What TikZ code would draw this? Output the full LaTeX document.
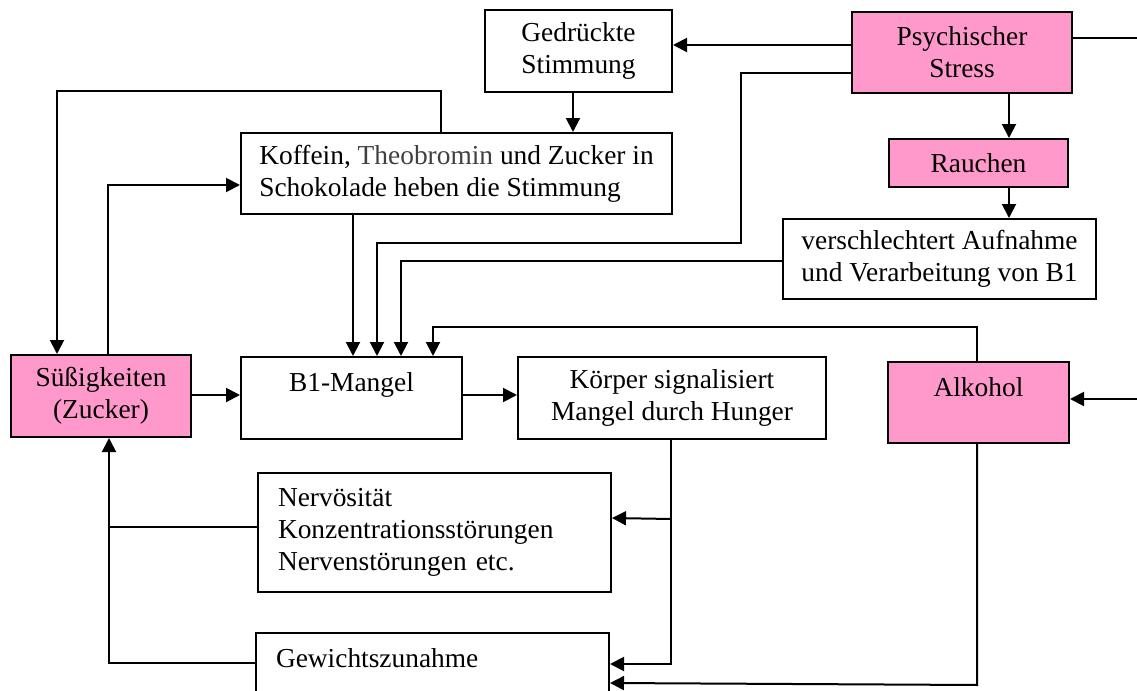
\documentclass[tikz,border=0pt]{standalone}
\usepackage{fontspec}
\setmainfont{Liberation Serif}
\usetikzlibrary{arrows.meta}
\definecolor{rosa}{HTML}{FF99CC}

\begin{document}
\begin{tikzpicture}
  [x=0.5pt,y=-0.5pt,line width=1pt,
   every node/.style={rectangle,font=\fontsize{13.7}{16}\selectfont},
   kasten/.style={draw,line width=1pt,align=center,inner sep=0pt},
   rosa kasten/.style={kasten,fill=rosa},
   pfeil/.style={-{Triangle[length=7pt,width=7pt]}}]
  \useasboundingbox (0,0) rectangle (1137,691);
  \clip (0,0) rectangle (1137,691);

  \node[kasten,minimum width=93.5pt,minimum height=41pt] (gedr) at (578.5,51) {Gedrückte\\Stimmung};
  \node[rosa kasten,minimum width=110pt,minimum height=40.5pt] (stress) at (962,52.5) {Psychischer\\Stress};
  \node[kasten,align=left,minimum width=215.5pt,minimum height=40.5pt] (koff) at (456.5,173.5)
    {Koffein, {\color{black!75}Theobromin} und Zucker in\\Schokolade heben die Stimmung};
  \node[rosa kasten,minimum width=89.5pt,minimum height=24pt] (rauch) at (978.5,163) {Rauchen};
  \node[kasten,minimum width=156.5pt,minimum height=40pt] (versch) at (939.5,259)
    {verschlechtert Aufnahme\\und Verarbeitung von B1};
  \node[rosa kasten,minimum width=90pt,minimum height=41pt] (suess) at (101,396) {Süßigkeiten\\(Zucker)};
  \node[kasten,minimum width=110.5pt,minimum height=41pt] (b1) at (351.5,398) {B1-Mangel\\\mbox{}};
  \node[kasten,minimum width=154pt,minimum height=41pt] (koerper) at (672,398)
    {Körper signalisiert\\Mangel durch Hunger};
  \node[rosa kasten,minimum width=90.5pt,minimum height=40.5pt] (alk) at (978.5,402.5) {Alkohol\\\mbox{}};
  \node[kasten,align=left,text width=156.5pt,inner xsep=10pt,minimum height=59.5pt] (nerv) at (434.5,532.5)
    {Nervösität\\Konzentrationsstörungen\\Nervenstörungen etc.};
  \node[kasten,align=left,text width=156.5pt,inner xsep=10pt,minimum height=41pt] (gew) at (432.5,674)
    {Gewichtszunahme\\\mbox{}};

  % Stress
  \draw[pfeil] (stress.west |- 0,45) -- (gedr.east |- 0,45);
  \draw[pfeil] (stress.west |- 0,73) -- (741,73) -- (741,243) -- (377,243) -- (b1.north -| 377,0);
  \coordinate (rechts oben) at (1137,38);
  \coordinate (rechts unten) at (1137,399);
  \draw (stress.east |- rechts oben) -- (rechts oben);
  \draw[pfeil] (rechts unten) -- (alk.east |- rechts unten);
  \draw[pfeil] (stress.south -| 1009,0) -- (rauch.north -| 1009,0);
  \draw[pfeil] (rauch.south -| 1009,0) -- (versch.north -| 1009,0);
  \draw[pfeil] (versch.west |- 0,261) -- (401,261) -- (b1.north -| 401,0);
  \draw[pfeil] (alk.north -| 977,0) -- (977,327) -- (433,327) -- (b1.north -| 433,0);

  % Stimmung und Suesses
  \draw[pfeil] (gedr.south -| 573,0) -- (koff.north -| 573,0);
  \draw[pfeil] (koff.north -| 441,0) -- (441,91) -- (57,91) -- (suess.north -| 57,0);
  \draw[pfeil] (suess.north -| 108,0) -- (108,185) -- (koff.west |- 0,185);
  \draw[pfeil] (koff.south -| 353,0) -- (b1.north -| 353,0);
  \draw[pfeil] (suess.east |- 0,395) -- (b1.west |- 0,395);
  \draw[pfeil] (b1.east |- 0,395) -- (koerper.west |- 0,395);

  % Folgen
  \draw[pfeil] (koerper.south -| 671,0) -- (671,664) -- (gew.east |- 0,664);
  \draw[pfeil] (671,519) -- (nerv.east |- 0,518);
  \draw[pfeil] (alk.south -| 977,0) -- (977,685) -- (gew.east |- 0,683);
  \draw (nerv.west |- 0,527) -- (109,527);
  \draw[pfeil] (gew.west |- 0,663) -- (109,663) -- (suess.south -| 109,0);
\end{tikzpicture}
\end{document}
